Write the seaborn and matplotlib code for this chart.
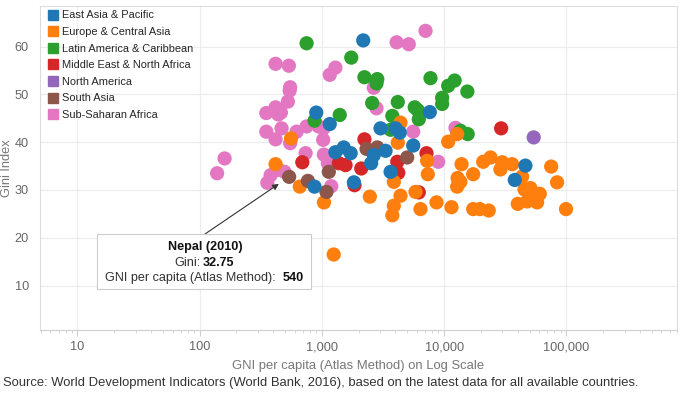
import numpy as np
import pandas as pd
import matplotlib
matplotlib.use("Agg")
import matplotlib.pyplot as plt
from matplotlib.lines import Line2D
from matplotlib.patches import Rectangle
from matplotlib.ticker import FixedLocator, FuncFormatter, LogLocator, NullFormatter
import seaborn as sns

# values (GNI per capita, Gini index)
ssa_gni = [7050, 4090, 5140, 418, 537, 1290, 1160, 2660, 550, 545, 527, 2800, 351, 418, 440,
           462, 351, 468, 621, 750, 940, 1030, 418, 550, 1025, 5590, 12400, 736, 1038, 1120,
           8950, 160, 139, 358, 381, 445, 495, 1194]
ssa_gini = [63.3, 60.9, 60.5, 56.4, 56.0, 55.6, 54.1, 51.4, 51.5, 50.8, 48.5, 47.1, 46.1, 47.3, 45.8,
            46.2, 42.2, 42.9, 42.2, 43.3, 43.3, 42.9, 40.6, 39.8, 40.5, 42.2, 43.0, 37.7, 37.4, 35.6,
            35.9, 36.6, 33.5, 31.5, 33.1, 34.2, 33.8, 30.8]

lac_gni = [750, 1740, 2230, 2840, 2800, 2580, 4180, 5750, 6090, 6210, 7740, 10800, 12200, 15500,
           9640, 9640, 1400, 871, 3770, 3650, 13600, 15600]
lac_gini = [60.7, 57.7, 53.6, 53.2, 52.3, 48.2, 48.4, 47.3, 46.7, 44.8, 53.4, 51.8, 52.9, 50.6,
            49.3, 48.0, 45.7, 44.5, 45.5, 42.6, 42.4, 41.7]

mena_gni = [29300, 2230, 692, 1377, 1563, 2100, 4140, 4220, 7180, 1850, 6210]
mena_gini = [42.9, 40.6, 35.8, 35.6, 35.2, 34.5, 35.9, 33.6, 37.7, 31.0, 29.5]

eca_gni = [560, 418, 660, 1040, 1250, 2470, 4400, 4180, 7270, 7360, 12800, 10800, 13900, 20900,
           24000, 29900, 36000, 28900, 17300, 12900, 13600, 12800, 75200, 84100, 99500, 43500,
           45500, 50900, 60700, 40100, 47800, 57700, 53500, 3880, 4400, 3880, 3770, 5840, 6410,
           8670, 11500, 17300, 19600, 23200]
eca_gini = [40.8, 35.4, 30.7, 27.4, 16.5, 28.6, 44.1, 39.9, 36.1, 33.3, 41.7, 40.1, 35.4, 35.9,
            36.8, 35.8, 35.4, 34.3, 33.3, 32.5, 31.7, 30.7, 34.9, 31.6, 26.0, 32.8,
            30.1, 30.4, 29.2, 27.1, 27.6, 27.4, 28.6, 31.7, 28.8, 26.7, 24.7, 29.6, 26.0,
            27.4, 26.4, 26.0, 26.0, 25.7]

sa_gni = [540, 2320, 2840, 4990, 1140, 769, 1090]
sa_gini = [32.75, 38.6, 38.9, 36.8, 33.8, 31.9, 29.6]

eap_gni = [2180, 900, 1160, 3020, 4010, 4340, 7640, 5590, 3320, 1290, 1510, 1720, 2660, 2530,
           3650, 1830, 871, 46300, 37900]
eap_gini = [61.3, 46.2, 43.8, 42.9, 42.9, 42.0, 46.3, 39.3, 38.2, 37.9, 38.9, 37.7, 37.3, 35.6,
            33.8, 31.6, 30.7, 35.1, 32.1]

na_gni = [54100]
na_gini = [41.0]

regions = ["East Asia & Pacific", "Europe & Central Asia", "Latin America & Caribbean",
           "Middle East & North Africa", "North America", "South Asia", "Sub-Saharan Africa"]
colors = ["#1f77b4", "#ff7f0e", "#2ca02c", "#d62728", "#9467bd", "#8c564b", "#e377c2"]
xticks = [10, 100, 1000, 10000, 100000]
yticks = [10, 20, 30, 40, 50, 60]

# draw order: pink first, blue/purple last
parts = [
    ("Sub-Saharan Africa", ssa_gni, ssa_gini),
    ("Latin America & Caribbean", lac_gni, lac_gini),
    ("Middle East & North Africa", mena_gni, mena_gini),
    ("Europe & Central Asia", eca_gni, eca_gini),
    ("South Asia", sa_gni, sa_gini),
    ("East Asia & Pacific", eap_gni, eap_gini),
    ("North America", na_gni, na_gini),
]
df = pd.concat([pd.DataFrame({"region": r, "gni": g, "gini": v}) for r, g, v in parts],
               ignore_index=True)

sns.set_style("white")
plt.rcParams["font.family"] = ["Liberation Sans", "DejaVu Sans"]

W, H = 680, 395
fig = plt.figure(figsize=(W / 100, H / 100), dpi=100)
ax = fig.add_axes([40 / W, 1 - 330 / H, 637 / W, 324 / H])


def fpx(x, y):
    # reference pixel position -> figure fraction
    return x / W, 1 - y / H


sns.scatterplot(data=df, x="gni", y="gini", hue="region", hue_order=regions,
                palette=dict(zip(regions, colors)), s=105, linewidth=0, alpha=1,
                legend=False, ax=ax, zorder=3)

ax.set_xscale("log")
ax.set_xlim(4.94, 805000)
ax.set_ylim(0.7, 68.5)
ax.xaxis.set_major_locator(FixedLocator(xticks))
ax.xaxis.set_major_formatter(FuncFormatter(lambda v, _: f"{v:,.0f}"))
ax.xaxis.set_minor_locator(LogLocator(base=10, subs=np.arange(2, 10)))
ax.xaxis.set_minor_formatter(NullFormatter())
ax.set_yticks(yticks)

ax.grid(True, which="major", color="#ececec", lw=0.8)
ax.set_axisbelow(True)
for sp in ax.spines.values():
    sp.set_color("#dcdcdc")
    sp.set_linewidth(0.8)
ax.spines["bottom"].set_color("#cfcfcf")

ax.tick_params(axis="x", which="major", length=4, color="#d0d0d0", labelsize=9.2,
               labelcolor="#666666", pad=4, bottom=True)
ax.tick_params(axis="x", which="minor", length=2.5, color="#d0d0d0", bottom=True)
ax.tick_params(axis="y", length=0, labelsize=9.2, labelcolor="#666666", pad=8)

ax.set_xlabel("GNI per capita (Atlas Method) on Log Scale", fontsize=9.4, color="#777777",
              labelpad=5)
ax.set_ylabel("Gini Index", fontsize=9.2, color="#777777")
ax.yaxis.set_label_coords(-0.042, 0.5)

handles = [Line2D([], [], marker="s", linestyle="", color=c, markersize=7.5) for c in colors]
ax.legend(handles, regions, loc="upper left", bbox_to_anchor=fpx(49, 10.5),
          bbox_transform=fig.transFigure, frameon=False, fontsize=7.9, handlelength=0.7,
          handletextpad=0.45, labelspacing=0.6, borderaxespad=0, borderpad=0)

# callout for Nepal
box = Rectangle(fpx(97, 289), 214 / W, 55 / H, transform=fig.transFigure,
                facecolor="white", edgecolor="#cccccc", lw=0.8, zorder=5)
fig.add_artist(box)
ax.annotate("", xy=(sa_gni[0], sa_gini[0]), xytext=(205, H - 234), textcoords="figure pixels",
            arrowprops=dict(arrowstyle="-|>", color="#333333", lw=0.8, mutation_scale=9,
                            shrinkA=0, shrinkB=9))
fs = 9.1
fig.text(*fpx(205, 247), "Nepal (2010)", ha="center", va="center", fontsize=fs,
         fontweight="bold", color="#111111", zorder=6)
fig.text(*fpx(201, 263), "Gini:", ha="right", va="center", fontsize=fs, color="#333333", zorder=6)
fig.text(*fpx(203, 263), "32.75", ha="left", va="center", fontsize=fs, fontweight="bold",
         color="#111111", zorder=6)
fig.text(*fpx(276, 278), "GNI per capita (Atlas Method):", ha="right", va="center", fontsize=fs,
         color="#333333", zorder=6)
fig.text(*fpx(283, 278), "540", ha="left", va="center", fontsize=fs, fontweight="bold",
         color="#111111", zorder=6)

fig.text(*fpx(3, 383), "Source: World Development Indicators (World Bank, 2016), based on the "
         "latest data for all available countries.", ha="left", va="center", fontsize=9.4,
         color="#333333")

fig.savefig("out.png", dpi=100)
